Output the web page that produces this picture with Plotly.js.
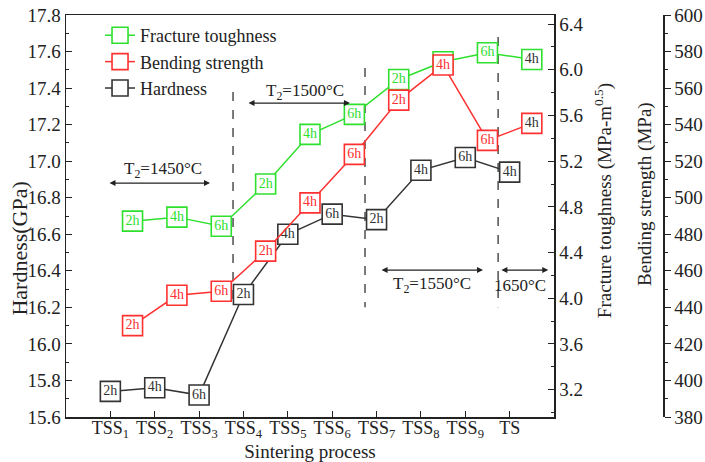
<!DOCTYPE html>
<html>
<head>
<meta charset="utf-8">
<script src="https://cdn.plot.ly/plotly-3.0.1.min.js"></script>
<style>html,body{margin:0;padding:0;background:#fff;}#chart{width:705px;height:462px;}</style>
</head>
<body>
<div id="chart"></div>
<script>
// ---- data ----
const categories = ['TSS<sub>1</sub>','TSS<sub>2</sub>','TSS<sub>3</sub>','TSS<sub>4</sub>','TSS<sub>5</sub>','TSS<sub>6</sub>','TSS<sub>7</sub>','TSS<sub>8</sub>','TSS<sub>9</sub>','TS'];
const holdTimes = ['2h','4h','6h','2h','4h','6h','2h','4h','6h','4h'];
const hardness = [15.74, 15.76, 15.72, 16.27, 16.60, 16.71, 16.68, 16.95, 17.02, 16.94];
const toughness = [4.675, 4.71, 4.63, 5.00, 5.435, 5.61, 5.915, 6.07, 6.15, 6.09];
const bending = [430.0, 446.6, 448.8, 470.8, 497.2, 523.7, 553.4, 572.6, 531.4, 540.7];
const seriesNames = ['Fracture toughness', 'Bending strength', 'Hardness'];
const axisTitles = ['Sintering process', 'Hardness(GPa)', 'Fracture toughness (MPa-m<sup>0.5</sup>)', 'Bending strength (MPa)'];

// ---- styling ----
const GREEN = '#2ee02e', RED = '#ff3030', DARK = '#333333';
const FONT = 'Liberation Serif, Times New Roman, serif';
const xH = categories.map((c, i) => i + 1);
const xTB = categories.map((c, i) => i + 1.5);
const tickvals = categories.map((c, i) => i + 1);

function textColors(col){ return holdTimes.map((t,i)=> i===holdTimes.length-1 ? DARK : col); }
function series(x, y, col, yaxis, txtCol){
  return {
    x: x, y: y, yaxis: yaxis, type: 'scatter', mode: 'lines+markers+text',
    text: holdTimes, textposition: 'middle center',
    textfont: {family: FONT, size: 14, color: txtCol},
    line: {color: col, width: 1.5},
    marker: {symbol: 'square', size: 20, color: '#ffffff', line: {color: col, width: 1.6}},
    showlegend: false, cliponaxis: false, hoverinfo: 'skip'
  };
}
function legendItem(name, col){
  return {
    x: [null], y: [null], type: 'scatter', mode: 'lines+markers', name: name,
    line: {color: col, width: 1.5},
    marker: {symbol: 'square', size: 18, color: '#ffffff', line: {color: col, width: 1.6}},
    showlegend: true, hoverinfo: 'skip'
  };
}

const traces = [
  series(xTB, toughness, GREEN, 'y2', textColors(GREEN)),
  series(xTB, bending, RED, 'y3', textColors(RED)),
  series(xH, hardness, DARK, 'y', DARK),
  legendItem(seriesNames[0], GREEN),
  legendItem(seriesNames[1], RED),
  legendItem(seriesNames[2], DARK)
];

const axCommon = {
  showgrid: false, zeroline: false, showline: true, linecolor: '#222', linewidth: 1.5,
  tickcolor: '#222', tickfont: {family: FONT, size: 19, color: '#222'}
};

function dashed(x, y0, y1){
  return {type: 'line', xref: 'x', yref: 'y', x0: x, x1: x, y0: y0, y1: y1, layer: 'below',
          line: {color: '#333', width: 1.3, dash: 'dash'}};
}
function arrow(x0, x1, y){
  return {xref: 'x', yref: 'y', axref: 'x', ayref: 'y', x: x1, y: y, ax: x0, ay: y,
          text: '', showarrow: true, arrowhead: 2, startarrowhead: 2, arrowside: 'end+start',
          arrowsize: 1, arrowwidth: 1.2, arrowcolor: '#222', standoff: 0, startstandoff: 0};
}
function label(x, y, t){
  return {xref: 'x', yref: 'y', x: x, y: y, text: t, showarrow: false,
          font: {family: FONT, size: 17, color: '#222'}};
}
function vtitle(x, y, t, size){
  return {xref: 'paper', yref: 'paper', x: x, y: y, text: t, showarrow: false, textangle: -90,
          xanchor: 'center', yanchor: 'middle', font: {family: FONT, size: size, color: '#222'}};
}

const layout = {
  width: 705, height: 462,
  margin: {l: 66, r: 42, t: 15, b: 45},
  paper_bgcolor: '#fff', plot_bgcolor: '#fff',
  font: {family: FONT, color: '#222'},
  showlegend: true,
  legend: {x: 0.057, y: 0.995, xanchor: 'left', yanchor: 'top', bgcolor: 'rgba(0,0,0,0)',
           font: {family: FONT, size: 18, color: '#222'}, tracegroupgap: 0, itemwidth: 30},
  xaxis: Object.assign({}, axCommon, {
    domain: [0, 488/597], range: [0, 11], tickmode: 'array', tickvals: tickvals, ticktext: categories,
    ticks: 'inside', ticklen: 6, mirror: true, tickfont: {family: FONT, size: 18, color: '#222'},
    ticklabelstandoff: -6,
    title: {text: axisTitles[0], font: {family: FONT, size: 19, color: '#222'}, standoff: 0}
  }),
  yaxis: Object.assign({}, axCommon, {
    range: [15.6, 17.8], dtick: 0.2, tick0: 15.6, tickformat: '.1f', ticks: 'inside', ticklen: 6,
    minor: {dtick: 0.1, ticks: 'inside', ticklen: 3, tickcolor: '#222'}
  }),
  yaxis2: Object.assign({}, axCommon, {
    overlaying: 'y', side: 'right', anchor: 'x', range: [2.96, 6.48], tick0: 3.2, dtick: 0.4,
    tickformat: '.1f', ticks: 'inside', ticklen: 6,
    minor: {dtick: 0.2, ticks: 'inside', ticklen: 3, tickcolor: '#222'}
  }),
  yaxis3: Object.assign({}, axCommon, {
    overlaying: 'y', side: 'right', anchor: 'free', position: 1, range: [380, 600], dtick: 20,
    ticks: 'outside', ticklen: 6,
    minor: {dtick: 10, ticks: 'outside', ticklen: 3, tickcolor: '#222'}
  }),
  shapes: [
    dashed(3.765, 17.379, 16.213),
    dashed(6.74, 17.51, 16.20),
    dashed(9.74, 17.68, 16.20)
  ],
  annotations: [
    arrow(0.947, 3.246, 16.88), label(2.187, 16.95, 'T<sub>2</sub>=1450°C'),
    arrow(4.08, 6.40, 17.318), label(5.388, 17.38, 'T<sub>2</sub>=1500°C'),
    arrow(7.08, 9.40, 16.404), label(8.25, 16.32, 'T<sub>2</sub>=1550°C'),
    arrow(9.78, 10.87, 16.404), label(10.23, 16.32, '1650°C'),
    vtitle(-0.078, 0.42, axisTitles[1], 22),
    vtitle(0.8995, 0.537, axisTitles[2], 19),
    vtitle(0.970, 0.555, axisTitles[3], 19)
  ]
};

Plotly.newPlot('chart', traces, layout, {staticPlot: true, displayModeBar: false});
</script>
</body>
</html>
